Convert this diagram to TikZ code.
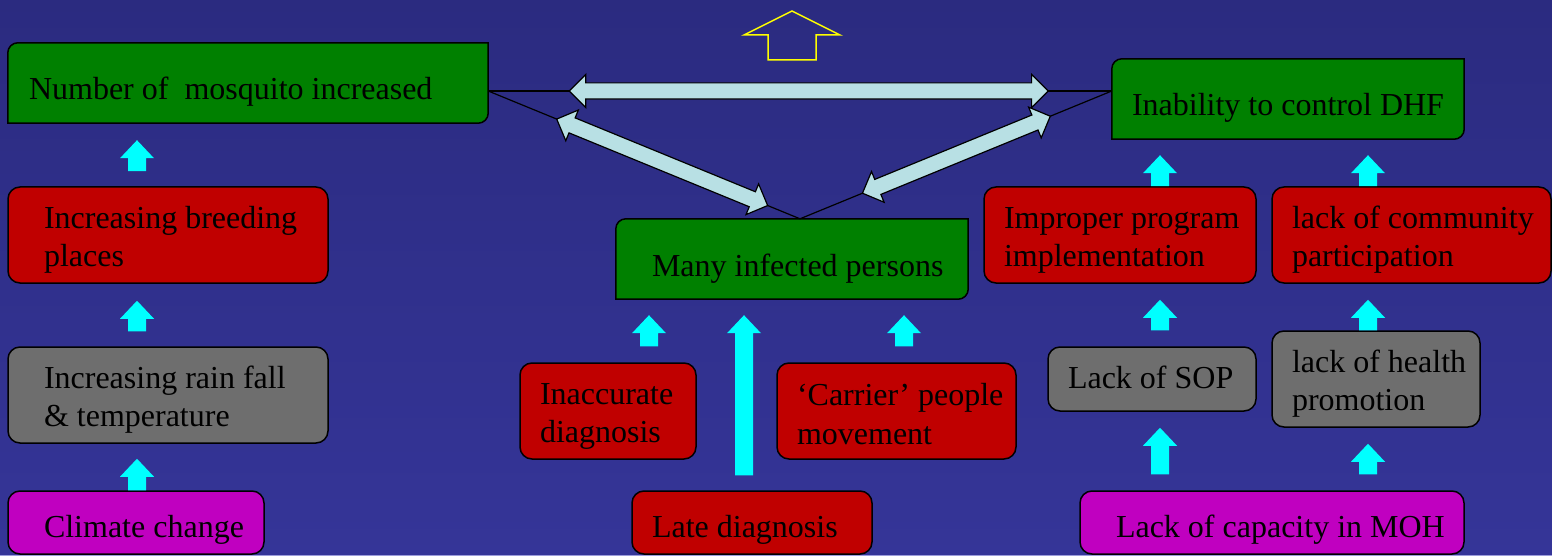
\documentclass[tikz,border=0pt]{standalone}
\usepackage{fontspec}
\setmainfont{Liberation Serif}
\usetikzlibrary{shapes.arrows,calc}
\definecolor{bgtop}{HTML}{2B2B80}
\definecolor{bgbot}{HTML}{353598}
\definecolor{bgedge}{HTML}{9C9CDC}
\definecolor{boxgreen}{HTML}{008000}
\definecolor{boxred}{HTML}{C00000}
\definecolor{boxgray}{HTML}{6E6E6E}
\definecolor{boxmag}{HTML}{C000C0}
\definecolor{linkblue}{HTML}{B8E0E4}
\definecolor{upcyan}{RGB}{0,255,255}
\definecolor{hintyellow}{RGB}{255,255,0}
\pgfdeclarelayer{bg}
\pgfdeclarelayer{boxbg}
\pgfsetlayers{bg,boxbg,main}
% green boxes: round top left and bottom right only
\newcommand{\greenfill}[1]{\filldraw[fill=boxgreen,draw=black,line width=1.5pt]
  ([yshift=-10pt]#1.north west) arc[start angle=180,end angle=90,radius=10pt]
  -- (#1.north east) -- ([yshift=10pt]#1.south east)
  arc[start angle=0,end angle=-90,radius=10pt] -- (#1.south west) -- cycle;}

\begin{document}
\begin{tikzpicture}[x=1pt,y=-1pt,font=\fontsize{32pt}{38.4pt}\selectfont,
  box/.style={draw=black,line width=1.5pt,rounded corners=12pt,inner ysep=0pt,align=flush left},
  redbox/.style={box,fill=boxred},
  graybox/.style={box,fill=boxgray},
  twolines/.style={minimum height=96pt,text height=32pt},
  oneline/.style={minimum height=63pt,text height=36pt,text depth=7pt},
  magbox/.style={box,fill=boxmag,oneline},
  greenbox/.style={inner ysep=0pt,align=flush left,minimum height=80pt,text height=41pt,text depth=7pt},
  upblk/.style 2 args={fill=upcyan,to path={let \p1=(\tikztostart),\p2=(\tikztotarget) in
    (\x1-9pt,\y1+#1) -- (\x1-9pt,\y2-#2-18pt) -- (\x1-17pt,\y2-#2-18pt) -- (\x1,\y2-#2)
    -- (\x1+17pt,\y2-#2-18pt) -- (\x1+9pt,\y2-#2-18pt) -- (\x1+9pt,\y1+#1) -- cycle}},
  link/.style={double arrow,draw=black,line width=1.2pt,fill=linkblue,inner xsep=0pt,
    inner ysep=7.5pt,double arrow head extend=8.5pt,double arrow tip angle=90},
  tie/.style={draw=black,line width=1.2pt}]
\useasboundingbox (0,0) rectangle (1552,556);
\begin{pgfonlayer}{bg}
\shade[top color=bgtop,bottom color=bgbot] (0,0) rectangle (1552,556);
\fill[bgedge] (0,554.8) rectangle (1552,556);
\end{pgfonlayer}

% left column
\node[greenbox,text width=438pt,inner xsep=21pt] (mosq) at (248,83) {Number of\ \ mosquito increased};
\node[redbox,twolines,text width=248pt,inner xsep=36pt] (breed) at (168,235) {\mbox{Increasing breeding}\\places};
\node[graybox,twolines,text width=248pt,inner xsep=36pt] (rain) at (168,395) {Increasing rain fall\\\& temperature};
\node[magbox,text width=184pt,inner xsep=36pt] (climate) at (136,522.5) {\mbox{Climate change}};

% middle
\node[greenbox,text width=280pt,inner xsep=36pt] (infected) at (792,259) {\mbox{Many infected persons}};
\node[redbox,twolines,text width=136pt,inner xsep=20pt] (inacc) at (608,411) {Inaccurate\\diagnosis};
\node[redbox,twolines,text height=28pt,text width=199pt,inner xsep=20pt] (carrier) at (896.5,411) {\mbox{‘Carrier’ people}\\movement};
\node[redbox,oneline,text width=200pt,inner xsep=20pt] (late) at (752,522.5) {Late diagnosis};

% right
\node[greenbox,text width=312pt,inner xsep=20pt] (inab) at (1288,99) {\mbox{Inability to control DHF}};
\node[redbox,twolines,text width=232pt,inner xsep=20pt] (improper) at (1120,235) {\mbox{Improper program}\\implementation};
\node[redbox,twolines,text width=239pt,inner xsep=20pt] (commun) at (1411.5,235) {\mbox{lack of community}\\participation};
\node[graybox,oneline,minimum height=64pt,text height=25pt,text width=168pt,inner xsep=20pt] (sop) at (1152,379) {Lack of SOP};
\node[graybox,twolines,text width=168pt,inner xsep=20pt] (health) at (1376,379) {\mbox{lack of health}\\promotion};
\node[magbox,text width=312pt,inner xsep=36pt] (moh) at (1272,522.5) {\mbox{Lack of capacity in MOH}};

\begin{pgfonlayer}{boxbg}
\greenfill{mosq}
\greenfill{infected}
\greenfill{inab}
\end{pgfonlayer}

% triangle of links
\draw[tie] ([yshift=-8pt]mosq.east) coordinate (mE) -- node[link,pos=0.514,minimum height=479pt] (hlink) {} ([yshift=8pt]inab.west) coordinate (iW);
\coordinate (apex) at ([xshift=8pt]infected.north);
\draw[tie] (mE) -- node[link,sloped,pos=0.558,minimum height=228pt] (llink) {} (apex);
\draw[tie] (iW) -- node[link,sloped,pos=0.4985,minimum height=203pt] (rlink) {} (apex);

% cyan arrows
\path[upblk={0pt}{15pt}] ([xshift=1pt]climate.north) to (rain.south);
\path[upblk={15pt}{17pt}] ([xshift=-31pt]rain.north) to (breed.south);
\path[upblk={15pt}{17pt}] ([xshift=-31pt]breed.north) to (mosq.south);
\path[upblk={16pt}{16pt}] ([xshift=41pt]inacc.north) to (infected.south);
\path[upblk={15pt}{16pt}] ([xshift=-8pt]late.north) to (infected.south);
\path[upblk={16pt}{16pt}] ([xshift=7.5pt]carrier.north) to (infected.south);
\path[upblk={16pt}{16pt}] ([xshift=-112pt]moh.north) to (sop.south);
\path[upblk={16pt}{16pt}] ([xshift=8pt]sop.north) to (improper.south);
\path[upblk={0pt}{16pt}] ([xshift=40pt]improper.north) to (inab.south);
\path[upblk={16pt}{16pt}] ([xshift=96pt]moh.north) to (health.south);
\path[upblk={0pt}{16pt}] ([xshift=-8pt]health.north) to (commun.south);
\path[upblk={0pt}{16pt}] ([xshift=-43.5pt]commun.north) to (inab.south);

% yellow outline arrow
\draw[hintyellow,line width=1.5pt] (792,11) -- (840,35) -- (816,35) -- (816,60) -- (768,60) -- (768,35) -- (744,35) -- cycle;
\end{tikzpicture}
\end{document}
